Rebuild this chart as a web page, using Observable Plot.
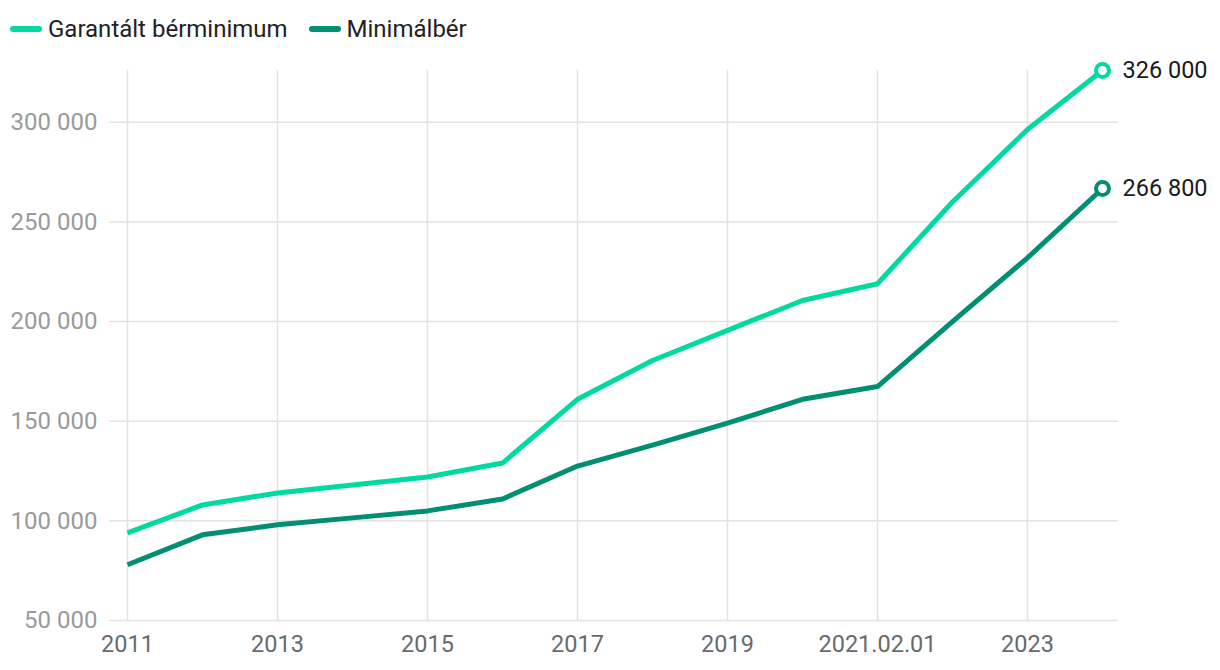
<!DOCTYPE html>
<html>
<head>
<meta charset="utf-8">
<script src="https://cdn.jsdelivr.net/npm/d3@7"></script>
<script src="https://cdn.jsdelivr.net/npm/@observablehq/plot@0.6"></script>
<style>
  html, body { margin: 0; padding: 0; background: #fff; font-family: Roboto, "Noto Sans", sans-serif; }
  #legend { height: 55px; display: flex; align-items: center; padding-left: 10px; padding-top: 3px; box-sizing: border-box; font-size: 24px; color: #222; }
  .item { display: flex; align-items: center; margin-right: 21px; }
  .swatch { width: 32px; height: 6px; border-radius: 3px; margin-right: 6px; }
</style>
</head>
<body>
<div id="legend"></div>
<div id="chart"></div>
<script>
const years = [2011, 2012, 2013, 2014, 2015, 2016, 2017, 2018, 2019, 2020, 2021, 2022, 2023, 2024];
const garantalt = [94000, 108000, 114000, 118000, 122000, 129000, 161000, 180500, 195600, 210600, 219000, 260000, 296400, 326000];
const minimalber = [78000, 93000, 98000, 101500, 105000, 111000, 127500, 138000, 149000, 161000, 167400, 200000, 232000, 266800];
const seriesNames = ["Garantált bérminimum", "Minimálbér"];
const seriesColors = ["#00da9f", "#008f71"];
const xTicks = [2011, 2013, 2015, 2017, 2019, 2021, 2023];
const xTickLabels = ["2011", "2013", "2015", "2017", "2019", "2021.02.01", "2023"];
const yTicks = [50000, 100000, 150000, 200000, 250000, 300000];

const data = [];
seriesNames.forEach((s, si) => {
  const vals = si === 0 ? garantalt : minimalber;
  years.forEach((y, i) => data.push({series: s, year: y, value: vals[i]}));
});
const last = data.filter(d => d.year === years[years.length - 1]);

const legend = document.getElementById("legend");
seriesNames.forEach((s, i) => {
  const it = document.createElement("div");
  it.className = "item";
  it.innerHTML = `<div class="swatch" style="background:${seriesColors[i]}"></div><span>${s}</span>`;
  legend.appendChild(it);
});

const fmt = v => d3.format(",")(v).replace(/,/g, " ");

const chart = Plot.plot({
  width: 1220,
  height: 615,
  marginTop: 15,
  marginBottom: 50,
  marginLeft: 127,
  marginRight: 118,
  style: {fontFamily: "Roboto, sans-serif", fontSize: "23px", background: "#fff"},
  x: {domain: [2011, 2024], label: null},
  y: {domain: [50000, 326000], label: null},
  color: {domain: seriesNames, range: seriesColors},
  marks: [
    Plot.ruleY(yTicks, {stroke: "#e2e2e2", strokeWidth: 1.5, insetLeft: -18, insetRight: -16}),
    Plot.ruleX(xTicks, {stroke: "#e2e2e2", strokeWidth: 1.5}),
    Plot.axisY({ticks: yTicks, tickFormat: fmt, tickSize: 0, tickPadding: 30, fill: "#9a9a9a", fontSize: 24, label: null}),
    Plot.axisX({ticks: xTicks, tickFormat: d => xTickLabels[xTicks.indexOf(d)], tickSize: 0, tickPadding: 15, fill: "#6a6a6a", fontSize: 23.5, label: null}),
    Plot.line(data, {x: "year", y: "value", stroke: "series", strokeWidth: 5, strokeLinejoin: "round", strokeLinecap: "butt"}),
    Plot.dot(last, {x: "year", y: "value", stroke: "series", fill: "#fff", r: 6.5, strokeWidth: 4}),
    Plot.text(last, {x: "year", y: "value", text: d => fmt(d.value), textAnchor: "start", dx: 20, fill: "#1a1a1a", fontSize: 23.5})
  ]
});
document.getElementById("chart").appendChild(chart);
</script>
</body>
</html>
